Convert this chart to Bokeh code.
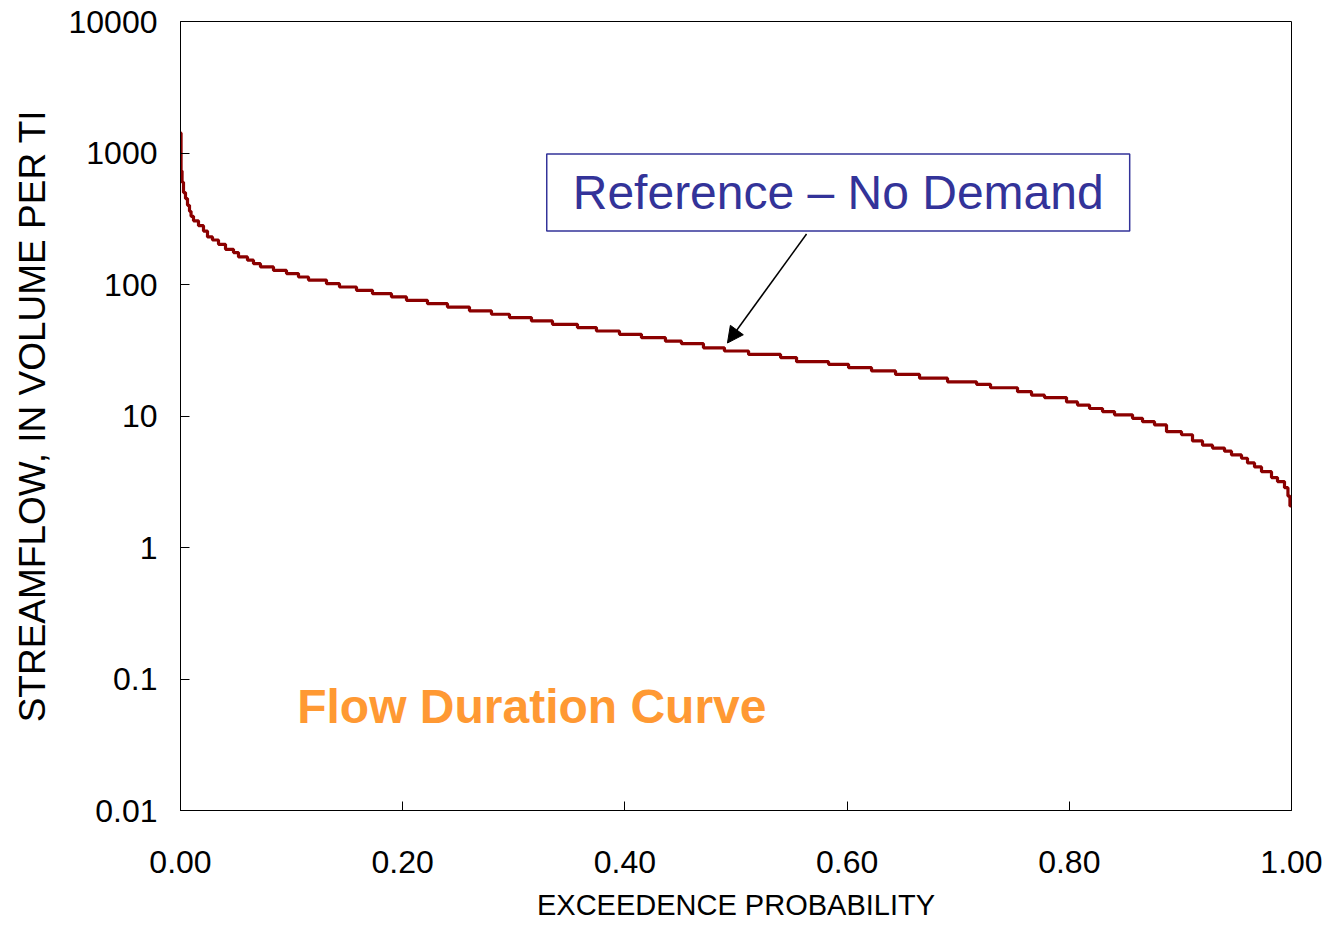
from bokeh.plotting import figure
from bokeh.models import FixedTicker, NumeralTickFormatter, Label, Arrow, NormalHead
from bokeh.embed import file_html
from bokeh.resources import INLINE

# Flow duration curve: exceedance probability at the start of each flow step
exceed_prob = [
    0.0, 0.0005, 0.0014, 0.0027, 0.0045, 0.0063, 0.0081, 0.0095, 0.0117, 0.0162,
    0.0207, 0.0243, 0.0288, 0.0342, 0.0405, 0.0477, 0.0522, 0.0603, 0.0657, 0.0720,
    0.0837, 0.0954, 0.1062, 0.1152, 0.1314, 0.1431, 0.1584, 0.1728, 0.1899, 0.2034,
    0.2223, 0.2403, 0.2601, 0.2799, 0.2961, 0.3159, 0.3348, 0.3573, 0.3744, 0.3951,
    0.4149, 0.4365, 0.4509, 0.4707, 0.4896, 0.5113, 0.5401, 0.5545, 0.5833, 0.6013,
    0.6220, 0.6436, 0.6652, 0.6904, 0.7165, 0.7291, 0.7534, 0.7660, 0.7777, 0.7975,
    0.8074, 0.8182, 0.8299, 0.8407, 0.8569, 0.8659, 0.8767, 0.8875, 0.9010, 0.9109,
    0.9199, 0.9289, 0.9397, 0.9460, 0.9550, 0.9604, 0.9667, 0.9730, 0.9820, 0.9874,
    0.9937, 0.9968, 0.9986, 1.0,
]
# Streamflow (volume per time) for each step
streamflow = [
    1420, 730, 600, 500, 450, 400, 360, 330, 305, 280,
    255, 230, 218, 202, 185, 175, 162, 153, 144, 136,
    128, 121, 114, 108, 101.5, 95.7, 90.3, 85.2, 80.4, 75.8,
    71.5, 67.4, 63.1, 59.4, 56.0, 52.8, 49.8, 47.0, 44.3, 41.8,
    39.4, 37.1, 35.5, 33.0, 31.2, 29.4, 27.8, 25.9, 24.7, 23.3,
    22.0, 20.7, 19.4, 18.2, 17.4, 16.4, 15.3, 14.4, 13.8, 12.8,
    12.1, 11.4, 10.8, 10.2, 9.6, 9.05, 8.55, 7.6, 7.2, 6.46,
    6.0, 5.7, 5.4, 5.06, 4.77, 4.4, 4.1, 3.77, 3.40, 3.17,
    2.85, 2.46, 2.07, 2.07,
]

x_ticks = [0.0, 0.2, 0.4, 0.6, 0.8, 1.0]
y_ticks = [0.01, 0.1, 1, 10, 100, 1000, 10000]
y_tick_labels = ["0.01", "0.1", "1", "10", "100", "1000", "10000"]

FONT = "Liberation Sans"

p = figure(
    width=1329, height=932,
    x_range=(0, 1), y_range=(0.01, 10000), y_axis_type="log",
    output_backend="svg", toolbar_location=None,
    min_border_left=180, min_border_right=38, min_border_top=21, min_border_bottom=122,
    background_fill_color="white", border_fill_color="white",
)
p.grid.visible = False
p.outline_line_color = "black"
p.outline_line_width = 1

for ax in (p.xaxis[0], p.yaxis[0]):
    ax.axis_line_color = "black"
    ax.major_tick_line_color = "black"
    ax.major_tick_in = 9
    ax.major_tick_out = 0
    ax.minor_tick_line_color = None
    ax.major_label_text_font = FONT
    ax.major_label_text_font_size = "32px"
    ax.major_label_text_color = "black"
    ax.axis_label_text_font = FONT
    ax.axis_label_text_font_style = "normal"
    ax.axis_label_text_color = "black"

p.xaxis.ticker = FixedTicker(ticks=x_ticks)
p.xaxis.formatter = NumeralTickFormatter(format="0.00")
p.xaxis.major_label_standoff = 40
p.xaxis.axis_label = "EXCEEDENCE PROBABILITY"
p.xaxis.axis_label_text_font_size = "29px"
p.xaxis.axis_label_standoff = 13

p.yaxis.ticker = FixedTicker(ticks=y_ticks, minor_ticks=[])
p.yaxis.major_label_overrides = {t: s for t, s in zip(y_ticks, y_tick_labels)}
p.yaxis.major_label_standoff = 23
p.yaxis.axis_label = "STREAMFLOW, IN VOLUME PER TI"
p.yaxis.axis_label_text_font_size = "37px"
p.yaxis.axis_label_standoff = 13

p.step(exceed_prob, streamflow, mode="after", line_color="#8B0000", line_width=3.2)

# Callout box pointing at the curve
p.add_layout(Label(
    x=0.592, y=500, text="Reference \u2013 No Demand",
    text_align="center", text_baseline="middle",
    text_font=FONT, text_font_size="48px", text_color="#333399",
    background_fill_color="white",
    border_line_color="#333399", border_line_width=1.5,
    padding=dict(left=26, right=26, top=12, bottom=12),
))
p.add_layout(Arrow(
    end=NormalHead(size=16, fill_color="black", line_color="black"),
    x_start=0.5635, y_start=242, x_end=0.4923, y_end=35.9,
    line_color="black", line_width=1.5,
))

p.add_layout(Label(
    x=0.105, y=0.0622, text="Flow Duration Curve",
    text_align="left", text_baseline="alphabetic",
    text_font=FONT, text_font_size="48px", text_font_style="bold",
    text_color="#FF9933",
))

open("out.html", "w").write(file_html(p, INLINE))
